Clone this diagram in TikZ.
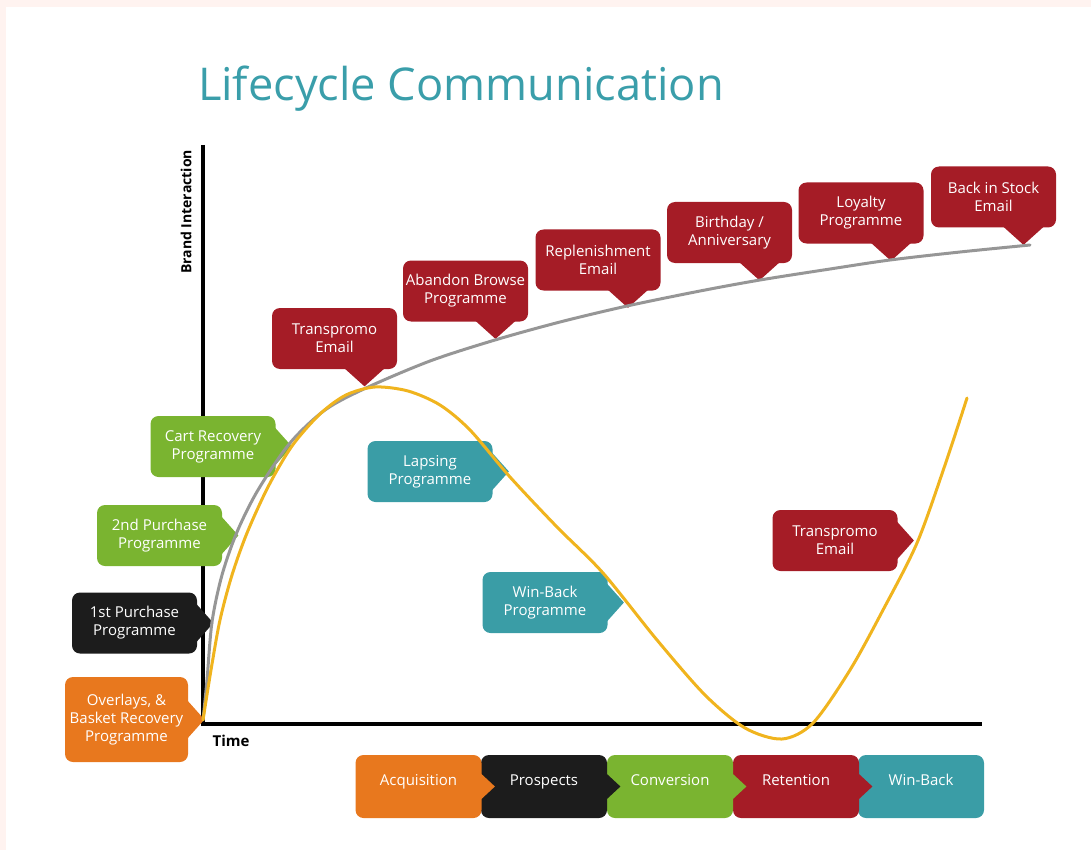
\documentclass[tikz,border=0pt]{standalone}
\usepackage{fontspec}
\setmainfont{Open Sans}
\usepackage{tikz}
\usetikzlibrary{calc}

\definecolor{lcred}{RGB}{165,28,38}
\definecolor{lcgreen}{RGB}{122,180,48}
\definecolor{lcorange}{RGB}{232,120,30}
\definecolor{lcteal}{RGB}{58,157,166}
\definecolor{lcblack}{RGB}{28,28,28}
\definecolor{lctitle}{RGB}{58,158,170}
\definecolor{lcgrey}{RGB}{150,150,150}
\definecolor{lcyellow}{RGB}{240,180,30}
\definecolor{lcpink}{RGB}{255,243,240}

\tikzset{
  callout/.style={rounded corners=4pt, minimum width=62.5pt, minimum height=30.5pt,
    inner sep=1pt, align=center, text=white, font=\fontsize{7.5}{9}\selectfont},
  redbox/.style={callout, fill=lcred},
  greenbox/.style={callout, fill=lcgreen},
  tealbox/.style={callout, fill=lcteal},
  blackbox/.style={callout, fill=lcblack},
  orangebox/.style={callout, fill=lcorange, minimum height=42.5pt},
  stage/.style={rounded corners=4pt, minimum width=63pt, minimum height=31.5pt,
    inner sep=0pt, text height=6pt, text depth=7pt, text=white,
    font=\fontsize{7.5}{9}\selectfont},
  axis/.style={line width=2pt, black},
}

\begin{document}
\begin{tikzpicture}[x=0.5pt, y=-0.5pt]
\useasboundingbox (0,0) rectangle (1091,850);
\fill[lcpink] (0,0) rectangle (1091,7);
\fill[lcpink] (0,0) rectangle (6,850);

\node[anchor=base west, text=lctitle, font=\fontsize{22.6}{27}\selectfont] (title) at (191,101) {Lifecycle Communication};

% axes
\coordinate (o) at (203,724);
\coordinate (ytop) at (203,145);
\coordinate (xend) at (982,724);
\draw[axis] (ytop) -- (o) -- (xend);
\node[rotate=90, font=\bfseries\fontsize{7}{8}\selectfont] (brand) at (186,212) {Brand Interaction};
\node[font=\bfseries\fontsize{7.5}{9}\selectfont] (time) at (231,741) {Time};

% left side
\node[orangebox, minimum width=61.5pt] (ovl) at (126.5,719.5) {Overlays, \&\\Basket Recovery\\Programme};
\node[blackbox] (fpp) at (134.5,623) {1st Purchase\\Programme};
\node[greenbox] (spp) at (159.5,535.5) {2nd Purchase\\Programme};
\node[greenbox] (crp) at (213,446.5) {Cart Recovery\\Programme};

% top row
\node[redbox] (tpa) at (334.5,338.5) {Transpromo\\Email};
\node[redbox] (abp) at (465.5,291) {Abandon Browse\\Programme};
\node[redbox] (rep) at (598,260) {Replenishment\\Email};
\node[redbox] (bir) at (729.5,232.5) {Birthday /\\Anniversary};
\node[redbox] (loy) at (861,213) {Loyalty\\Programme};
\node[redbox] (bis) at (993.5,197) {Back in Stock\\Email};

% lapse and return
\node[tealbox] (lap) at (430,471.5) {Lapsing\\Programme};
\node[tealbox] (wbp) at (545,602.5) {Win-Back\\Programme};
\node[redbox] (tpb) at (835,540.5) {Transpromo\\Email};

% pointers
\foreach \n in {tpa,abp,rep,bir,loy,bis}
  \fill[lcred] ($(\n.south)+(10,-1)$) -- ($(\n.south)+(30,17)$) -- ($(\n.south)+(50,-1)$) -- cycle;
\foreach \n/\c in {ovl/lcorange, fpp/lcblack, spp/lcgreen, crp/lcgreen, lap/lcteal, wbp/lcteal, tpb/lcred}
  \fill[\c] ($(\n.east)+(-1,-19)$) -- ($(\n.east)+(16,0)$) -- ($(\n.east)+(-1,19)$) -- cycle;

% curves
\draw[lcgrey, line width=1.5pt, line cap=round] plot[smooth] coordinates {(203,720) (207,680) (212,622) (222,575) (237,532) (258,490) (290,443) (325,410) (366,388) (430,361) (495,340) (560,322) (627,306) (700,291) (760,280) (830,269) (890,260) (960,252) (1030,245)};
\draw[lcyellow, line width=1.5pt, line cap=round] plot[smooth] coordinates {(203,720) (211,670) (220,620) (232,575) (247,533) (268,487) (292,446) (320,414) (346,395) (375,387) (408,391) (440,405) (470,430) (510,477) (557,527) (603,573) (657,640) (705,695) (745,728) (782,739) (813,723) (850,670) (883,610) (917,543) (945,465) (967,398)};

% stages, right to left
\node[stage, fill=lcteal] (wb) at (921,786.5) {Win-Back};
\node[stage, fill=lcred] (ret) at (796,786.5) {Retention};
\fill[lcred] ($(ret.east)+(-1,-13)$) -- ($(ret.east)+(13,0)$) -- ($(ret.east)+(-1,13)$) -- cycle;
\node[stage, fill=lcgreen] (con) at (670,786.5) {Conversion};
\fill[lcgreen] ($(con.east)+(-1,-13)$) -- ($(con.east)+(13,0)$) -- ($(con.east)+(-1,13)$) -- cycle;
\node[stage, fill=lcblack] (pro) at (544,786.5) {Prospects};
\fill[lcblack] ($(pro.east)+(-1,-13)$) -- ($(pro.east)+(13,0)$) -- ($(pro.east)+(-1,13)$) -- cycle;
\node[stage, fill=lcorange] (acq) at (418.5,786.5) {Acquisition};
\fill[lcorange] ($(acq.east)+(-1,-13)$) -- ($(acq.east)+(13,0)$) -- ($(acq.east)+(-1,13)$) -- cycle;
\end{tikzpicture}
\end{document}
